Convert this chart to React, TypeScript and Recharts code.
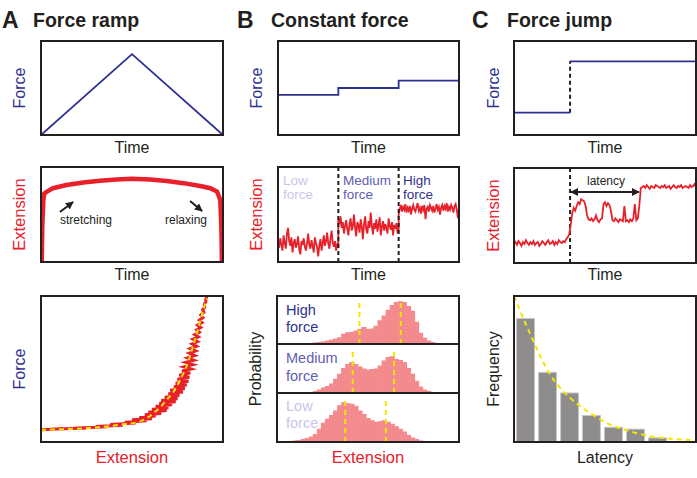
import React from 'react';
import { LineChart, Line, XAxis, YAxis, ReferenceLine, BarChart, Bar } from 'recharts';

const FONT = '"Liberation Sans", Arial, Helvetica, sans-serif';
const BLUE = '#2e3192';
const MEDBLUE = '#5f5db5';
const LIGHTBLUE = '#c8c6e9';
const RED = '#e8202a';
const INK = '#231f20';
const YELLOW = '#f4e600';
const PINK = '#f38b8e';
const GRAY = '#8e8c8d';

// ---------- A1: force ramp ----------
const rampTime = [0, 0.5, 1];
const rampForce = [0, 0.86, 0];

// ---------- B1: constant force steps ----------
const stepTimes = [0, 1 / 3, 2 / 3, 1];
const stepForces = [0.426, 0.5, 0.578, 0.578];

// ---------- C1: force jump ----------
const jumpTime = 0.308;
const jumpLowForce = 0.237;
const jumpHighForce = 0.784;

// ---------- A2: extension during ramp ----------
const rampExtTime = [0.004, 0.007, 0.013, 0.018, 0.029, 0.066, 0.14, 0.232, 0.324, 0.415, 0.5, 0.6, 0.691, 0.783, 0.875, 0.93, 0.967, 0.985, 0.991, 0.994];
const rampExt = [0, 0.37, 0.654, 0.72, 0.735, 0.777, 0.81, 0.837, 0.855, 0.869, 0.876, 0.869, 0.852, 0.83, 0.8, 0.777, 0.742, 0.654, 0.37, 0];

// ---------- B2: constant-force traces ----------
const cfLow = [0.22, 0.15, 0.25, 0.18, 0.12, 0.28, 0.2, 0.14, 0.3, 0.36, 0.22, 0.17, 0.26, 0.1, 0.2, 0.24, 0.15, 0.19, 0.27, 0.13, 0.08, 0.22, 0.18, 0.25, 0.16, 0.12, 0.2, 0.3, 0.18, 0.14, 0.23, 0.17, 0.1, 0.26, 0.2, 0.15, 0.06, 0.18, 0.24, 0.12, 0.2, 0.28, 0.17, 0.22, 0.31, 0.19, 0.14, 0.25, 0.33, 0.2, 0.16, 0.22, 0.12, 0.18, 0.15];
const cfMed = [0.45, 0.4, 0.48, 0.36, 0.42, 0.3, 0.38, 0.44, 0.35, 0.28, 0.4, 0.46, 0.33, 0.38, 0.5, 0.36, 0.27, 0.42, 0.39, 0.31, 0.45, 0.37, 0.24, 0.4, 0.48, 0.34, 0.3, 0.43, 0.36, 0.52, 0.38, 0.29, 0.41, 0.35, 0.45, 0.32, 0.39, 0.47, 0.28, 0.37, 0.43, 0.33, 0.4, 0.36, 0.3, 0.46, 0.38, 0.34, 0.42, 0.28, 0.39, 0.35, 0.41, 0.3, 0.33];
const cfHigh = [0.5, 0.56, 0.6, 0.53, 0.58, 0.55, 0.61, 0.52, 0.57, 0.54, 0.59, 0.5, 0.56, 0.6, 0.55, 0.53, 0.58, 0.62, 0.54, 0.57, 0.51, 0.59, 0.55, 0.6, 0.45, 0.56, 0.58, 0.53, 0.6, 0.57, 0.54, 0.59, 0.52, 0.56, 0.61, 0.55, 0.58, 0.5, 0.57, 0.6, 0.54, 0.59, 0.56, 0.62, 0.53, 0.58, 0.55, 0.6, 0.57, 0.52, 0.59, 0.61, 0.55, 0.46, 0.58];
const cfBoundaries = [1 / 3, 2 / 3];

// ---------- C2: force-jump trace ----------
const fjTrace = [
  0.2, 0.22, 0.19, 0.23, 0.21, 0.18, 0.22, 0.2, 0.24, 0.21, 0.19, 0.22, 0.2, 0.23, 0.19, 0.21, 0.22, 0.18, 0.2, 0.23, 0.21, 0.19, 0.22, 0.24, 0.2, 0.21, 0.23, 0.19, 0.22, 0.2, 0.24, 0.22, 0.21, 0.23, 0.22, 0.25,
  0.27, 0.3, 0.4, 0.52, 0.58, 0.55,
  0.6, 0.64, 0.62, 0.67, 0.66, 0.65, 0.6,
  0.5, 0.46,
  0.45, 0.47, 0.44, 0.46, 0.5, 0.45, 0.43, 0.46, 0.47,
  0.62, 0.64, 0.6, 0.63, 0.61, 0.55,
  0.45, 0.44, 0.47, 0.45, 0.43, 0.46, 0.45, 0.44,
  0.6, 0.44,
  0.45, 0.43, 0.46, 0.44, 0.47,
  0.62, 0.45,
  0.47, 0.6,
  0.79,
  0.8, 0.81, 0.79, 0.82, 0.8, 0.78, 0.81, 0.8, 0.79, 0.82, 0.81, 0.8, 0.79, 0.81, 0.8, 0.82, 0.79, 0.8, 0.81, 0.78, 0.8, 0.82, 0.8, 0.79, 0.81, 0.8, 0.82, 0.79, 0.8, 0.81, 0.8, 0.79, 0.82, 0.8, 0.81, 0.83, 0.8,
];
const latencyStart = 0.313;
const latencyEnd = 0.687;
const latencyLevel = 0.747;

// ---------- A3: force-extension curve ----------
const fecExt = [0, 0.12, 0.05, 0.25, 0.18, 0.36, 0.3, 0.45, 0.38, 0.52, 0.46, 0.58, 0.5, 0.61, 0.54, 0.63, 0.57, 0.66, 0.59, 0.69, 0.61, 0.7, 0.63, 0.72, 0.65, 0.74, 0.66, 0.75, 0.68, 0.76, 0.7, 0.78, 0.71, 0.79, 0.73, 0.8, 0.74, 0.81, 0.75, 0.815, 0.76, 0.82, 0.775, 0.825, 0.785, 0.835, 0.795, 0.84, 0.805, 0.845, 0.815, 0.85, 0.82, 0.855, 0.83, 0.86, 0.835, 0.865, 0.845, 0.87, 0.855, 0.878, 0.86, 0.885, 0.87, 0.89, 0.878, 0.895, 0.888, 0.9, 0.897, 0.906, 0.905, 0.912];
const fecForce = [0.084, 0.09, 0.088, 0.096, 0.094, 0.104, 0.106, 0.115, 0.12, 0.13, 0.136, 0.145, 0.152, 0.16, 0.168, 0.178, 0.186, 0.196, 0.205, 0.215, 0.225, 0.235, 0.245, 0.255, 0.265, 0.275, 0.285, 0.296, 0.307, 0.318, 0.33, 0.342, 0.354, 0.366, 0.378, 0.39, 0.403, 0.416, 0.43, 0.444, 0.458, 0.472, 0.486, 0.5, 0.515, 0.53, 0.545, 0.56, 0.576, 0.592, 0.608, 0.624, 0.64, 0.656, 0.672, 0.688, 0.704, 0.72, 0.736, 0.752, 0.768, 0.785, 0.8, 0.818, 0.835, 0.852, 0.87, 0.888, 0.906, 0.924, 0.942, 0.96, 0.978, 0.995];
const fitExt = [0, 0.305, 0.434, 0.544, 0.59, 0.618, 0.657, 0.691, 0.72, 0.746, 0.77, 0.792, 0.812, 0.829, 0.843, 0.857, 0.871, 0.884, 0.898, 0.912];
const fitForce = [0.084, 0.1, 0.118, 0.141, 0.17, 0.198, 0.24, 0.289, 0.33, 0.38, 0.44, 0.494, 0.56, 0.631, 0.69, 0.745, 0.81, 0.87, 0.93, 0.984];

// ---------- B3: extension histograms (45 bins) ----------
const histHigh = [0, 0, 0, 0, 0, 0, 0, 0, 0.01, 0.02, 0.03, 0.04, 0.06, 0.08, 0.1, 0.13, 0.2, 0.23, 0.24, 0.27, 0.3, 0.34, 0.3, 0.31, 0.37, 0.48, 0.58, 0.7, 0.8, 0.86, 0.88, 0.86, 0.78, 0.68, 0.45, 0.22, 0.12, 0.06, 0.03, 0.01, 0.005, 0, 0, 0, 0];
const histMed = [0, 0, 0, 0, 0, 0, 0, 0, 0, 0.03, 0.06, 0.1, 0.13, 0.18, 0.28, 0.38, 0.5, 0.58, 0.62, 0.58, 0.53, 0.49, 0.46, 0.48, 0.49, 0.55, 0.65, 0.72, 0.74, 0.68, 0.66, 0.62, 0.5, 0.38, 0.24, 0.12, 0.06, 0.03, 0.01, 0, 0, 0, 0, 0, 0];
const histLow = [0, 0, 0, 0, 0.02, 0.03, 0.05, 0.07, 0.1, 0.15, 0.26, 0.38, 0.46, 0.54, 0.63, 0.74, 0.8, 0.78, 0.77, 0.73, 0.63, 0.56, 0.48, 0.43, 0.4, 0.41, 0.43, 0.4, 0.36, 0.31, 0.26, 0.2, 0.13, 0.08, 0.05, 0.02, 0, 0, 0, 0, 0, 0, 0, 0, 0];
const peaksHigh = [0.453, 0.68];
const peaksMed = [0.416, 0.643];
const peaksLow = [0.375, 0.598];

// ---------- C3: latency histogram ----------
const latencyBins = [0.063, 0.184, 0.305, 0.425, 0.546, 0.667, 0.788];
const latencyFreq = [0.846, 0.477, 0.336, 0.182, 0.101, 0.088, 0.028];
const fitLatency = [0, 0.088, 0.197, 0.307, 0.416, 0.526, 0.635, 0.745, 0.854, 0.98, 1];
const fitFreq = [1.0, 0.742, 0.465, 0.304, 0.2, 0.12, 0.074, 0.04, 0.023, 0.012, 0.01];

// ---------- tables ----------
const zipXY = (xs: number[], ys: number[]) => xs.map((x, i) => ({ x, y: ys[i] }));
const rampRows = zipXY(rampTime, rampForce);
const stepRows = zipXY(stepTimes, stepForces);
const jumpLowRows = zipXY([0, jumpTime], [jumpLowForce, jumpLowForce]);
const jumpHighRows = zipXY([jumpTime, 1], [jumpHighForce, jumpHighForce]);
const rampExtRows = zipXY(rampExtTime, rampExt);
const cfRows = [cfLow, cfMed, cfHigh].flatMap((seg, k) =>
  seg.map((v, i) => ({ x: (k + i / (seg.length - 1)) / 3, y: v }))
);
const fjRows = fjTrace.map((v, i) => ({ x: i / (fjTrace.length - 1), y: v }));
const fecRows = zipXY(fecExt, fecForce);
const fitRows = zipXY(fitExt, fitForce);
const histRows = (h: number[]) => h.map((p, i) => ({ x: (i + 0.5) / h.length, p }));
const latRows = latencyBins.map((x, i) => ({ x, f: latencyFreq[i] }));
const latFitRows = fitLatency.map((x, i) => ({ x, f: fitFreq[i] }));

const M = { top: 0, right: 0, bottom: 0, left: 0 };

function Frame({ x, y, w, h, children }: { x: number; y: number; w: number; h: number; children?: React.ReactNode }) {
  return (
    <div style={{ position: 'absolute', left: x, top: y, width: w, height: h }}>
      {children}
      <div
        style={{
          position: 'absolute', left: -1, top: -1, width: w + 2, height: h + 2,
          border: `2px solid ${INK}`, boxSizing: 'border-box', pointerEvents: 'none',
        }}
      />
    </div>
  );
}

const Layer = ({ children }: { children: React.ReactNode }) => (
  <div style={{ position: 'absolute', left: 0, top: 0 }}>{children}</div>
);

const dashed = { stroke: INK, strokeWidth: 2, strokeDasharray: '4 3' };

function Hist({ w, h, data, peaks }: { w: number; h: number; data: number[]; peaks: number[] }) {
  return (
    <BarChart width={w} height={h} data={histRows(data)} margin={M} barCategoryGap={0} barGap={0}>
      <XAxis type="number" dataKey="x" domain={[0, 1]} hide />
      <YAxis type="number" domain={[0, 1]} hide />
      <Bar dataKey="p" fill={PINK} stroke={PINK} strokeWidth={1.2} barSize={w / data.length - 0.02} isAnimationActive={false} />
      {peaks.map((p) => (
        <ReferenceLine key={p} segment={[{ x: p, y: 0 }, { x: p, y: 0.92 }]} stroke={YELLOW} strokeWidth={2} strokeDasharray="5 4" />
      ))}
    </BarChart>
  );
}

function T({ x, y, size = 16, fill = INK, bold = false, anchor = 'start', rotate = false, children }: any) {
  return (
    <text
      x={x} y={y} fontSize={size} fill={fill} fontWeight={bold ? 700 : 400} fontFamily={FONT}
      textAnchor={anchor} transform={rotate ? `rotate(-90 ${x} ${y})` : undefined}
    >
      {children}
    </text>
  );
}

export default function App() {
  return (
    <div style={{ position: 'absolute', left: 0, top: 0, width: 697, height: 478, background: '#fff', fontFamily: FONT }}>
      <svg width={0} height={0} style={{ position: 'absolute' }}>
        <defs>
          <marker id="ah" viewBox="0 0 10 10" refX="9" refY="5" markerWidth="8" markerHeight="8" markerUnits="userSpaceOnUse" orient="auto-start-reverse">
            <path d="M0,0 L10,5 L0,10 z" fill={INK} />
          </marker>
        </defs>
      </svg>

      {/* A1 */}
      <Frame x={41} y={41} w={182} h={94}>
        <LineChart width={182} height={94} data={rampRows} margin={M}>
          <XAxis type="number" dataKey="x" domain={[0, 1]} hide />
          <YAxis type="number" domain={[0, 1]} hide />
          <Line dataKey="y" stroke={BLUE} strokeWidth={1.8} dot={false} type="linear" isAnimationActive={false} />
        </LineChart>
      </Frame>

      {/* B1 */}
      <Frame x={278} y={41} w={181} h={94}>
        <LineChart width={181} height={94} data={stepRows} margin={M}>
          <XAxis type="number" dataKey="x" domain={[0, 1]} hide />
          <YAxis type="number" domain={[0, 1]} hide />
          <Line dataKey="y" stroke={BLUE} strokeWidth={1.8} dot={false} type="stepAfter" isAnimationActive={false} />
        </LineChart>
      </Frame>

      {/* C1 */}
      <Frame x={514} y={41} w={182} h={94}>
        <LineChart width={182} height={94} margin={M}>
          <XAxis type="number" dataKey="x" domain={[0, 1]} hide />
          <YAxis type="number" domain={[0, 1]} hide />
          <ReferenceLine segment={[{ x: jumpTime, y: jumpLowForce }, { x: jumpTime, y: jumpHighForce }]} {...dashed} />
          <Line data={jumpLowRows} dataKey="y" stroke={BLUE} strokeWidth={1.8} dot={false} isAnimationActive={false} />
          <Line data={jumpHighRows} dataKey="y" stroke={BLUE} strokeWidth={1.8} dot={false} isAnimationActive={false} />
        </LineChart>
      </Frame>

      {/* A2 */}
      <Frame x={41} y={167} w={182} h={95}>
        <LineChart width={182} height={95} data={rampExtRows} margin={M}>
          <XAxis type="number" dataKey="x" domain={[0, 1]} hide />
          <YAxis type="number" domain={[0, 1]} hide />
          <Line dataKey="y" stroke={RED} strokeWidth={4.5} dot={false} type="linear" isAnimationActive={false} />
          <ReferenceLine segment={[{ x: 0.104, y: 0.526 }, { x: 0.176, y: 0.632 }]} stroke={INK} strokeWidth={2} markerEnd="url(#ah)" />
          <ReferenceLine segment={[{ x: 0.819, y: 0.642 }, { x: 0.885, y: 0.537 }]} stroke={INK} strokeWidth={2} markerEnd="url(#ah)" />
        </LineChart>
      </Frame>

      {/* B2 */}
      <Frame x={278} y={167} w={181} h={95}>
        <LineChart width={181} height={95} data={cfRows} margin={M}>
          <XAxis type="number" dataKey="x" domain={[0, 1]} hide />
          <YAxis type="number" domain={[0, 1]} hide />
          <Line dataKey="y" stroke={RED} strokeWidth={1.8} dot={false} type="linear" isAnimationActive={false} />
          {cfBoundaries.map((b) => (
            <ReferenceLine key={b} x={b} {...dashed} />
          ))}
        </LineChart>
      </Frame>

      {/* C2 */}
      <Frame x={514} y={168} w={182} h={95}>
        <LineChart width={182} height={95} data={fjRows} margin={M}>
          <XAxis type="number" dataKey="x" domain={[0, 1]} hide />
          <YAxis type="number" domain={[0, 1]} hide />
          <ReferenceLine x={jumpTime} {...dashed} />
          <Line dataKey="y" stroke={RED} strokeWidth={1.8} dot={false} type="linear" isAnimationActive={false} />
          <ReferenceLine
            segment={[{ x: latencyStart, y: latencyLevel }, { x: latencyEnd, y: latencyLevel }]}
            stroke={INK} strokeWidth={2} markerStart="url(#ah)" markerEnd="url(#ah)"
          />
        </LineChart>
      </Frame>

      {/* A3 */}
      <Frame x={41} y={296} w={182} h={146}>
        <LineChart width={182} height={146} margin={M}>
          <XAxis type="number" dataKey="x" domain={[0, 1]} hide />
          <YAxis type="number" domain={[0, 1]} hide />
          <Line data={fecRows} dataKey="y" stroke={RED} strokeWidth={3} dot={false} type="linear" isAnimationActive={false} />
          <Line data={fitRows} dataKey="y" stroke={YELLOW} strokeWidth={2} strokeDasharray="5 4" dot={false} type="monotone" isAnimationActive={false} />
        </LineChart>
      </Frame>

      {/* B3 */}
      <Frame x={277} y={296} w={182} h={48}>
        <Hist w={182} h={48} data={histHigh} peaks={peaksHigh} />
      </Frame>
      <Frame x={277} y={344} w={182} h={49}>
        <Hist w={182} h={49} data={histMed} peaks={peaksMed} />
      </Frame>
      <Frame x={277} y={393} w={182} h={49}>
        <Hist w={182} h={49} data={histLow} peaks={peaksLow} />
      </Frame>

      {/* C3 */}
      <Frame x={514} y={296} w={182} h={146}>
        <Layer>
          <BarChart width={182} height={146} data={latRows} margin={M}>
            <XAxis type="number" dataKey="x" domain={[0, 1]} hide />
            <YAxis type="number" domain={[0, 1]} hide />
            <Bar dataKey="f" fill={GRAY} stroke="#c9c7c8" strokeWidth={1} barSize={18} isAnimationActive={false} />
          </BarChart>
        </Layer>
        <Layer>
          <LineChart width={182} height={146} data={latFitRows} margin={M}>
            <XAxis type="number" dataKey="x" domain={[0, 1]} hide />
            <YAxis type="number" domain={[0, 1]} hide />
            <Line dataKey="f" stroke={YELLOW} strokeWidth={2} strokeDasharray="5 4" dot={false} type="monotone" isAnimationActive={false} />
          </LineChart>
        </Layer>
      </Frame>

      {/* text overlay */}
      <svg width={697} height={478} style={{ position: 'absolute', left: 0, top: 0, pointerEvents: 'none' }}>
        <T x={2} y={28} size={23} bold>A</T>
        <T x={33} y={27} size={19.5} bold>Force ramp</T>
        <T x={237} y={28} size={23} bold>B</T>
        <T x={271} y={27} size={19.5} bold>Constant force</T>
        <T x={472} y={28} size={23} bold>C</T>
        <T x={507} y={27} size={19.5} bold>Force jump</T>

        <T x={132} y={153} anchor="middle">Time</T>
        <T x={368.5} y={153} anchor="middle">Time</T>
        <T x={605} y={153} anchor="middle">Time</T>
        <T x={132} y={280} anchor="middle">Time</T>
        <T x={368.5} y={280} anchor="middle">Time</T>
        <T x={605} y={280} anchor="middle">Time</T>
        <T x={132} y={463} anchor="middle" fill={RED} size={16.5}>Extension</T>
        <T x={368} y={463} anchor="middle" fill={RED} size={16.5}>Extension</T>
        <T x={605} y={463} anchor="middle">Latency</T>

        <T x={25} y={88} anchor="middle" rotate fill={BLUE}>Force</T>
        <T x={261.5} y={88} anchor="middle" rotate fill={BLUE}>Force</T>
        <T x={498.5} y={88} anchor="middle" rotate fill={BLUE}>Force</T>
        <T x={25} y={214.5} anchor="middle" rotate fill={RED} size={16.5}>Extension</T>
        <T x={261.5} y={214.5} anchor="middle" rotate fill={RED} size={16.5}>Extension</T>
        <T x={498.5} y={215.5} anchor="middle" rotate fill={RED} size={16.5}>Extension</T>
        <T x={25} y={369} anchor="middle" rotate fill={BLUE}>Force</T>
        <T x={261} y={369} anchor="middle" rotate>Probability</T>
        <T x={498.5} y={369} anchor="middle" rotate>Frequency</T>

        <T x={60} y={224} size={12}>stretching</T>
        <T x={165} y={224} size={12}>relaxing</T>
        <T x={606} y={185} size={12} anchor="middle">latency</T>

        <T x={283} y={184.5} size={13.5} fill={LIGHTBLUE}>Low</T>
        <T x={283} y={199} size={13.5} fill={LIGHTBLUE}>force</T>
        <T x={343} y={184.5} size={13.5} fill={MEDBLUE}>Medium</T>
        <T x={343} y={199} size={13.5} fill={MEDBLUE}>force</T>
        <T x={403} y={184.5} size={13.5} fill={BLUE}>High</T>
        <T x={403} y={199} size={13.5} fill={BLUE}>force</T>

        <T x={286} y={315} size={14.5} fill={BLUE}>High</T>
        <T x={286} y={332} size={14.5} fill={BLUE}>force</T>
        <T x={286} y={363} size={14.5} fill={MEDBLUE}>Medium</T>
        <T x={286} y={381} size={14.5} fill={MEDBLUE}>force</T>
        <T x={286} y={411} size={14.5} fill={LIGHTBLUE}>Low</T>
        <T x={286} y={428} size={14.5} fill={LIGHTBLUE}>force</T>
      </svg>
    </div>
  );
}
